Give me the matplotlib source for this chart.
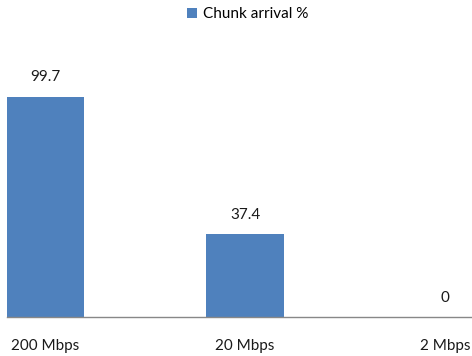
import matplotlib
matplotlib.use("Agg")
import matplotlib.pyplot as plt

categories = ["200 Mbps", "20 Mbps", "2 Mbps"]
values = [99.7, 37.4, 0]
series_name = "Chunk arrival %"

plt.rcParams["font.family"] = ["Lato", "DejaVu Sans"]

fig = plt.figure(figsize=(4.72, 3.56), dpi=100)
ax = fig.add_axes([7 / 472, 39 / 356, 465 / 472, 265 / 356])

x = list(range(len(categories)))
bars = ax.bar(x, values, width=0.39, color="#4F81BD", label=series_name)

for xi, v in zip(x, values):
    ax.annotate(f"{v:g}", (xi, v), xytext=(0, 9), textcoords="offset points",
                ha="center", va="bottom", fontsize=11, color="#1a1a1a")

ax.set_xlim(-0.19, 2.135)
ax.set_ylim(0, 120)
ax.set_yticks([])
ax.set_xticks([])
for s in ["top", "right", "left"]:
    ax.spines[s].set_visible(False)
ax.spines["bottom"].set_color("#888888")
ax.spines["bottom"].set_linewidth(1.0)

# category labels sit well below the axis line
for xi, c in zip(x, categories):
    ax.text(xi, -0.11, c, transform=ax.get_xaxis_transform(), ha="center", va="center",
            fontsize=11, color="#1a1a1a")

fig.legend(handles=[bars], labels=[series_name], loc="center", bbox_to_anchor=(0.525, 0.96),
           frameon=False, fontsize=11, handlelength=0.6, handleheight=0.6, handletextpad=0.4)

fig.savefig("out.png", dpi=100)
